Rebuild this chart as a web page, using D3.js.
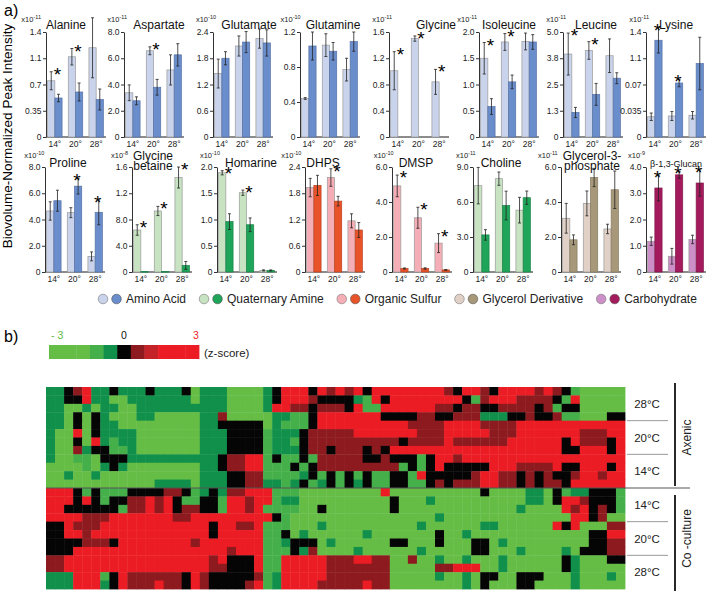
<!DOCTYPE html>
<html lang="en">
<head>
<meta charset="UTF-8" />
<title>Metabolite bars and z-score heatmap</title>
<script src="https://cdn.jsdelivr.net/npm/d3@7"></script>
<style>
  body { margin: 0; background: #fff; }
  svg { display: block; font-family: "Liberation Sans Narrow", "Arial Narrow", "Liberation Sans", sans-serif; }
</style>
</head>
<body>
<svg id="chart" width="706" height="595"></svg>
<script>
// ---------- data ----------
const temps = ["14", "20", "28"];
const compounds = ["Alanine", "Aspartate", "Glutamate", "Glutamine", "Glycine", "Isoleucine", "Leucine", "Lysine",
  "Proline", "Glycine betaine", "Homarine", "DHPS", "DMSP", "Choline", "Glycerol-3-phosphate", "β-1,3-Glucan"];
const classNames = ["Amino Acid", "Quaternary Amine", "Organic Sulfur", "Glycerol Derivative", "Carbohydrate"];
const compoundClass = [0, 0, 0, 0, 0, 0, 0, 0, 0, 1, 1, 2, 2, 1, 3, 4];
const exponents = ["-11", "-11", "-10", "-10", "-11", "-11", "-11", "-11", "-10", "-8", "-10", "-10", "-10", "-11", "-11", "-9"];
const axisMax = [1.4, 8, 2.4, 1.2, 1.6, 2.0, 5.0, 1.4, 8, 1.6, 2.0, 2.4, 6, 9, 6, 4];
const tickLabels = [
  ["0", "0.35", "0.7", "1.1", "1.4"],
  ["0", "2.0", "4.0", "6.0", "8.0"],
  ["0", "0.6", "1.2", "1.8", "2.4"],
  ["0", "0.4", "0.8", "1.2"],
  ["0", "0.4", "0.8", "1.2", "1.6"],
  ["0", "0.5", "1.0", "1.5", "2.0"],
  ["0", "1.3", "2.5", "3.8", "5.0"],
  ["0", "0.035", "0.07", "1.1", "1.4"],
  ["0", "2.0", "4.0", "6.0", "8.0"],
  ["0", "4.0", "8.0", "1.2", "1.6"],
  ["0", "0.5", "1.0", "1.5", "2.0"],
  ["0", "0.6", "1.2", "1.8", "2.4"],
  ["0", "2.0", "4.0", "6.0"],
  ["0", "3.0", "6.0", "9.0"],
  ["0", "2.0", "4.0", "6.0"],
  ["0", "1.0", "2.0", "3.0", "4.0"]
];
// light bars (axenic) and dark bars (co-culture), 14 / 20 / 28 degrees
const axenicMean = [
  [0.75, 1.07, 1.19], [3.37, 6.57, 5.11], [1.45, 2.08, 2.25], [0.44, 1.05, 0.77],
  [1.01, 1.50, 0.84], [1.50, 1.81, 1.82], [3.95, 4.12, 3.87], [0.27, 0.28, 0.29],
  [4.65, 4.52, 1.19], [0.64, 0.93, 1.44], [1.89, 1.51, 0.03], [1.93, 2.16, 1.17],
  [4.92, 3.10, 1.65], [7.40, 8.00, 5.30], [3.07, 3.92, 2.46], [1.17, 0.60, 1.24]
];
const axenicErr = [
  [0.12, 0.11, 0.40], [0.60, 0.30, 1.15], [0.33, 0.23, 0.22], [0.01, 0.13, 0.13],
  [0.29, 0.04, 0.19], [0.30, 0.16, 0.16], [1.00, 0.42, 0.80], [0.05, 0.06, 0.05],
  [0.70, 0.38, 0.34], [0.08, 0.07, 0.16], [0.04, 0.05, 0.01], [0.21, 0.20, 0.16],
  [0.62, 0.60, 0.54], [1.56, 0.57, 1.10], [0.85, 0.71, 0.27], [0.16, 0.30, 0.16]
];
const coMean = [
  [0.52, 0.60, 0.50], [2.76, 3.79, 6.26], [1.80, 2.17, 2.15], [1.04, 0.98, 1.09],
  [0, 0, 0], [0.58, 1.05, 1.81], [1.17, 2.03, 2.80], [1.29, 0.72, 0.98],
  [5.43, 6.54, 4.55], [0.006, 0.006, 0.10], [0.96, 0.90, 0.03], [1.98, 1.62, 0.96],
  [0.20, 0.20, 0.12], [3.18, 5.70, 6.37], [1.84, 5.40, 4.70], [3.20, 3.70, 3.39]
];
const coErr = [
  [0.05, 0.12, 0.14], [0.30, 0.60, 0.85], [0.15, 0.24, 0.30], [0.16, 0.10, 0.11],
  [0, 0, 0], [0.15, 0.13, 0.14], [0.24, 0.52, 0.26], [0.17, 0.05, 0.35],
  [0.80, 0.60, 0.95], [0, 0, 0.06], [0.15, 0.13, 0.01], [0.23, 0.11, 0.17],
  [0.03, 0.04, 0.02], [0.45, 1.23, 0.57], [0.28, 0.52, 1.07], [0.49, 0.13, 0.50]
];
const significant = [
  [1, 1, 0], [0, 1, 0], [0, 0, 0], [0, 0, 0], [1, 1, 1], [1, 1, 0], [1, 1, 0], [1, 1, 0],
  [0, 1, 1], [1, 1, 1], [1, 1, 0], [0, 1, 0], [1, 1, 1], [0, 0, 0], [0, 0, 0], [1, 1, 1]
];

// heatmap: one string per sample row, one letter per metabolite column
// G light green, g green, d dark green, k black, r dark red, R red
const heatRows = [
  "ddkrRddk" + "dddkdddk" + "GdddGGGG" + "dkRRRkRr" + "RrRkRRRR" + "RRRRrkRR" + "rkRRRRrR" + "rkgGGGGG",
  "ddkkRddG" + "Gddddddd" + "GdddGGGG" + "dkRRRrkk" + "kkdgRkRR" + "RRRRRRkg" + "rRRRrrrr" + "kgRGGGGG",
  "ddGGdGdd" + "GGdddddd" + "ddddGGGG" + "dRRrrkrr" + "rkRggRRR" + "RRRrrkrr" + "kkrrrrkr" + "gkkGGGGG",
  "ddGkGkdG" + "GGddGGGG" + "GddrGGGG" + "GddggkRR" + "RRRRRkkk" + "krrkkrrr" + "dddkkrkk" + "rggGGGkk",
  "ddGkGkdd" + "GGGGGGGG" + "Gddkkkkk" + "GdgggkRR" + "RRRRRRRR" + "rrrrRRRR" + "rrrrRRRR" + "RRRRRRRR",
  "dGGRGkdd" + "ddGGGGGG" + "Gdddkkkk" + "gdddkrrr" + "rrRRRRRR" + "RrrrRRRR" + "RrrrRRRR" + "RRRrrrRR",
  "dGGkGRdg" + "ddGGGGGG" + "Gdddkkkk" + "gddgkrrr" + "rrrrrrrk" + "rrrrRrrr" + "rrrRRRRR" + "RkRrrrkR",
  "dGGrdkkg" + "gdGGGGGG" + "Gdddkkkk" + "gdddkrrk" + "rrrkrkRR" + "RRRRRRRR" + "RRRRRRRR" + "RkkRRRkR",
  "dGGggGkk" + "kddddddd" + "dddkrrRR" + "gkggkgrr" + "rrrkkrkk" + "kgkRRrRR" + "RRRRRRRR" + "RRRRRRRR",
  "GGGGgGdk" + "dGGGGGGG" + "GddkrrRR" + "gggkgkrr" + "rrrrrrrg" + "kgkRkkkk" + "kRRRrrrr" + "RkkRRRkR",
  "GGdGGdGG" + "GGGGGGGG" + "Gdddkkrr" + "ggggdkgk" + "gkgkggkk" + "gRkkkkkr" + "RRrrkrkr" + "kkrRRrRR",
  "GGGGGGGG" + "GGGGdddd" + "Gdddkkrr" + "ddgdkgdk" + "gkdkggkk" + "ggkrkrrr" + "RRrrkrkr" + "rkRRRRRR",
  "RRRkgkgg" + "gkkkkrrk" + "gdkdrrRR" + "RgggGGGG" + "GGGGGRGG" + "GGGGGGGG" + "kGGGGddG" + "kgddkkkg",
  "RRRkRkgk" + "krrRrRkg" + "gkkgRRrR" + "RgddGGGG" + "GGGGGGkG" + "GGdGGGGG" + "GGGGGddG" + "kRRrkkkg",
  "RRkkkkkk" + "grrRrRkr" + "rkkgRRrR" + "ggggGGkG" + "GGGGGGkG" + "GGGGGGGG" + "GGGGdGGG" + "GRrRkrkg",
  "RRRRrrrR" + "RRRRRRrr" + "RRRRRRRR" + "RkgGGGGG" + "GGGGGGGG" + "GGGdGGGG" + "GGGGGGGG" + "GGRRkrGG",
  "kkRrrrRR" + "RRRRRRRR" + "RRkRRrrR" + "gggGGGdG" + "GGGGGGGG" + "GdGGGGGG" + "ddGGGGGG" + "RkRGGGrr",
  "kkRRrRRR" + "RRRRRRRR" + "RRkRRRRR" + "ggkGdGGG" + "GGGdGGGG" + "GGGkGGdG" + "GGGGGGGG" + "GGGGkkRR",
  "kkkkrrrk" + "RRRRRRRR" + "rRRRRRRR" + "ggdkkkGd" + "GGGGGGkk" + "GGGkGGGk" + "kGdGGGGG" + "GGGGkkrr",
  "kkkRRRRR" + "RRRRRRRR" + "RRRRrRRR" + "gggkdrGG" + "GGdGGGGG" + "GdGGGGGk" + "kGGGdGGG" + "GdGkkkrr",
  "rrRRRRRR" + "RRRRRRRR" + "RRrRkkkR" + "ggRRRRRr" + "rrRRrrGG" + "rGGdGGdG" + "GGdGGGGG" + "GkdGGGkk",
  "rrRRRRRR" + "RRRRRRRR" + "RRrrkkkR" + "ggRRRRRr" + "rrrrrrGG" + "GGGrrRRR" + "GGdGGGGG" + "GkdGGGGG",
  "dddRRRgk" + "Rrrrrrrk" + "Rrkkkkkr" + "gdRRRRRr" + "rrrrrrGG" + "GGGdGGdG" + "kkGGkkkG" + "GGdGGGdG",
  "dddRRRdk" + "RrrrRrrk" + "RrkkkkrR" + "gdRRRRrr" + "rrrRrrGG" + "GGGGGGdG" + "kGGGkkGG" + "GGdGGGGG"
];
const tempLabels = ["28°C", "20°C", "14°C", "14°C", "20°C", "28°C"];
const cultureLabels = ["Axenic", "Co -culture"];
const scaleCells = ["G", "G", "G", "g", "d", "k", "r", "m", "R", "R", "R"];
const scaleLabels = ["- 3", "0", "3"];

// ---------- styles ----------
const lightColor = ["#c9d4ec", "#c8e3c2", "#f6aeb6", "#e0d0c6", "#cd8fc8"];
const darkColor = ["#6a8dcc", "#1fa55a", "#e9532a", "#a69879", "#a31b5c"];
const heatColor = { G: "#66bd46", g: "#45b04a", d: "#10904a", k: "#050505", r: "#8c1a1e", m: "#c4232a", R: "#ec1c24" };
const plain = '"Liberation Sans", Arial, sans-serif';

const svg = d3.select("#chart");

// ---------- panel a) ----------
svg.append("text").attr("x", 4).attr("y", 16).attr("font-family", plain)
  .attr("font-size", 16).text("a)");
svg.append("text").attr("transform", "translate(12,136) rotate(-90)")
  .attr("text-anchor", "middle").attr("font-family", plain).attr("font-size", 13.5)
  .text("Biovolume-Normalized Peak Intensity");

const axisX = [46, 124, 213, 300, 389, 479, 563, 646, 45, 132, 217, 305, 392, 473, 561, 646];
const titleDx = [20, 35, 36, 33, 47, 30, 33, 30, 23, 21, 34, 18, 24, 28, 31, 30];
const rowTop = [32, 167], rowBottom = [137, 272];
const plotW = 58;
const titleLines = { "Glycine betaine": ["Glycine", "betaine"], "Glycerol-3-phosphate": ["Glycerol-3-", "phosphate"] };

compounds.forEach((name, i) => {
  const row = i < 8 ? 0 : 1;
  const cls = compoundClass[i];
  const g = svg.append("g").attr("transform", `translate(${axisX[i]},0)`);
  const y = d3.scaleLinear().domain([0, axisMax[i]]).range([rowBottom[row], rowTop[row]]);
  const x = d3.scaleBand().domain(temps).range([1, plotW]).paddingInner(0.3).paddingOuter(0.03);
  const xs = d3.scaleBand().domain(["ax", "co"]).range([0, x.bandwidth()]);
  const ticks = tickLabels[i];
  const tickVals = ticks.map((t, k) => axisMax[i] * k / (ticks.length - 1));

  // x baseline
  g.append("line").attr("x1", 0).attr("x2", plotW + 2)
    .attr("y1", y(0)).attr("y2", y(0)).attr("stroke", "#8c8c8c").attr("stroke-width", 2);

  const series = [
    { key: "ax", mean: axenicMean[i], err: axenicErr[i], fill: lightColor[cls], stroke: "#9a9a9a" },
    { key: "co", mean: coMean[i], err: coErr[i], fill: darkColor[cls], stroke: d3.color(darkColor[cls]).darker(0.6) }
  ];
  series.forEach(s => {
    const bars = temps.map((t, j) => ({ t, v: s.mean[j], e: s.err[j] })).filter(d => d.v > 0);
    g.selectAll(null).data(bars).enter().append("rect")
      .attr("x", d => x(d.t) + xs(s.key))
      .attr("width", xs.bandwidth())
      .attr("y", d => y(d.v))
      .attr("height", d => Math.max(0.6, y(0) - y(d.v)))
      .attr("fill", s.fill).attr("stroke", s.stroke).attr("stroke-width", 0.7);
    const eb = g.selectAll(null).data(bars.filter(d => d.e > 0)).enter().append("g")
      .attr("stroke", "#222").attr("stroke-width", 0.8);
    const cx = d => x(d.t) + xs(s.key) + xs.bandwidth() / 2;
    eb.append("line").attr("x1", cx).attr("x2", cx)
      .attr("y1", d => y(d.v - d.e)).attr("y2", d => y(d.v + d.e));
    eb.append("line").attr("x1", d => cx(d) - 1.5).attr("x2", d => cx(d) + 1.5)
      .attr("y1", d => y(d.v + d.e)).attr("y2", d => y(d.v + d.e));
    eb.append("line").attr("x1", d => cx(d) - 1.5).attr("x2", d => cx(d) + 1.5)
      .attr("y1", d => y(d.v - d.e)).attr("y2", d => y(d.v - d.e));
  });

  // significance stars
  temps.forEach((t, j) => {
    if (!significant[i][j]) return;
    const top = Math.max(axenicMean[i][j] + axenicErr[i][j], coMean[i][j] + coErr[i][j]);
    g.append("text").attr("x", x(t) + xs("co") + 2.5).attr("y", y(top) + 9)
      .attr("text-anchor", "middle").attr("font-family", plain).attr("font-size", 19).text("*");
  });

  // y axis
  const ax = g.append("g").call(d3.axisLeft(y).tickValues(tickVals)
    .tickFormat((d, k) => ticks[k]).tickSize(3).tickSizeOuter(0));
  ax.select(".domain").attr("stroke", "#333");
  ax.selectAll(".tick line").attr("stroke", "#333");
  ax.selectAll(".tick text").attr("font-family", null).attr("font-size", 8.5).attr("fill", "#222").attr("x", -4.5);

  // x labels
  g.selectAll(null).data(temps).enter().append("text")
    .attr("x", d => x(d) + x.bandwidth() / 2).attr("y", rowBottom[row] + 10)
    .attr("text-anchor", "middle").attr("font-size", 8.5).attr("fill", "#222")
    .text(d => d + "°");

  // title (one or two lines), made smaller if it would leave the page
  const lines = titleLines[name] || [name];
  const baseY = row ? (lines.length > 1 ? 160 : 167) : 29;
  let titleLeft = Infinity;
  lines.forEach((ln, k) => {
    const t = g.append("text").attr("x", titleDx[i]).attr("y", baseY + k * 9.5)
      .attr("text-anchor", "middle").attr("font-size", 12).attr("fill", "#111").text(ln);
    let w = t.node().getComputedTextLength();
    const room = 2 * (706 - 4 - axisX[i] - titleDx[i]);
    if (w > room) { t.attr("font-size", 12 * room / w); w = room; }
    titleLeft = Math.min(titleLeft, titleDx[i] - w / 2);
  });

  // exponent, kept clear of the title
  const ex = g.append("text").attr("x", Math.min(3, titleLeft - 5)).attr("y", row ? 158 : 22)
    .attr("text-anchor", "end").attr("font-size", 7.5).attr("fill", "#222").text("x10");
  ex.append("tspan").attr("dy", -3).attr("font-size", 5.5).text(exponents[i]);
});

// legend
let lx = 103;
classNames.forEach((c, k) => {
  svg.append("circle").attr("cx", lx).attr("cy", 299).attr("r", 4.8)
    .attr("fill", lightColor[k]).attr("stroke", "#777").attr("stroke-width", 0.6);
  svg.append("circle").attr("cx", lx + 13.5).attr("cy", 299).attr("r", 4.8)
    .attr("fill", darkColor[k]).attr("stroke", "#555").attr("stroke-width", 0.6);
  const t = svg.append("text").attr("x", lx + 23).attr("y", 303).attr("font-size", 12)
    .attr("fill", "#222").text(c);
  lx += 23 + t.node().getComputedTextLength() + 18;
});

// ---------- panel b) ----------
svg.append("text").attr("x", 4).attr("y", 342).attr("font-family", plain)
  .attr("font-size", 16).text("b)");

const cb = d3.scaleBand().domain(d3.range(scaleCells.length)).range([49, 199]);
svg.selectAll(null).data(scaleCells).enter().append("rect")
  .attr("x", (d, k) => cb(k)).attr("width", cb.bandwidth() + 0.4)
  .attr("y", 345).attr("height", 14).attr("fill", d => heatColor[d]);
const cbVal = d3.scaleLinear().domain([-3, 3]).range([52, 196]);
const cbColors = ["#5fb947", "#111", "#ec1c24"];
[-3, 0, 3].forEach((v, k) => {
  svg.append("text").attr("x", cbVal(v) + (k === 0 ? -1 : 0)).attr("y", 339)
    .attr("text-anchor", k === 0 ? "start" : "middle").attr("font-size", 10.5)
    .attr("fill", cbColors[k]).text(scaleLabels[k]);
});
svg.append("text").attr("x", 204).attr("y", 357).attr("font-size", 11.5).attr("fill", "#222").text("(z-score)");

const nCols = 64;
const hx = d3.scaleBand().domain(d3.range(nCols)).range([46, 625]);
const hy = d3.scaleBand().domain(d3.range(heatRows.length)).range([387, 589]);
const cells = [];
heatRows.forEach((row, r) => {
  const s = row.padEnd(nCols, row[row.length - 1]).slice(0, nCols);
  for (let c = 0; c < nCols; c++) cells.push({ r, c, v: s[c] });
});
svg.append("g").selectAll("rect").data(cells).enter().append("rect")
  .attr("x", d => hx(d.c)).attr("y", d => hy(d.r))
  .attr("width", hx.bandwidth() + 0.4).attr("height", hy.bandwidth() + 0.4)
  .attr("fill", d => heatColor[d.v]);

// separator between axenic and co-culture
svg.append("line").attr("x1", 46).attr("x2", 690).attr("y1", hy(12)).attr("y2", hy(12))
  .attr("stroke", "#555").attr("stroke-width", 1);

// temperature labels and dividers
tempLabels.forEach((t, b) => {
  const y0 = hy(b * 4), y1 = hy(b * 4 + 3) + hy.bandwidth();
  svg.append("text").attr("x", 647).attr("y", (y0 + y1) / 2 + 4).attr("text-anchor", "middle")
    .attr("font-size", 11.5).attr("fill", "#222").text(t);
  if (b % 3 !== 0) {
    svg.append("line").attr("x1", 627).attr("x2", 668).attr("y1", y0).attr("y2", y0)
      .attr("stroke", "#999").attr("stroke-width", 1);
  }
});

// culture brackets
cultureLabels.forEach((c, k) => {
  const y0 = hy(k * 12), y1 = hy(k * 12 + 11) + hy.bandwidth();
  svg.append("line").attr("x1", 675).attr("x2", 675)
    .attr("y1", y0 + (k ? 7 : -4)).attr("y2", y1 - (k ? -2 : 2))
    .attr("stroke", "#111").attr("stroke-width", 1.8);
  svg.append("text").attr("transform", `translate(691,${(y0 + y1) / 2}) rotate(-90)`)
    .attr("text-anchor", "middle").attr("font-size", 12).attr("fill", "#222").text(c);
});
</script>
</body>
</html>
